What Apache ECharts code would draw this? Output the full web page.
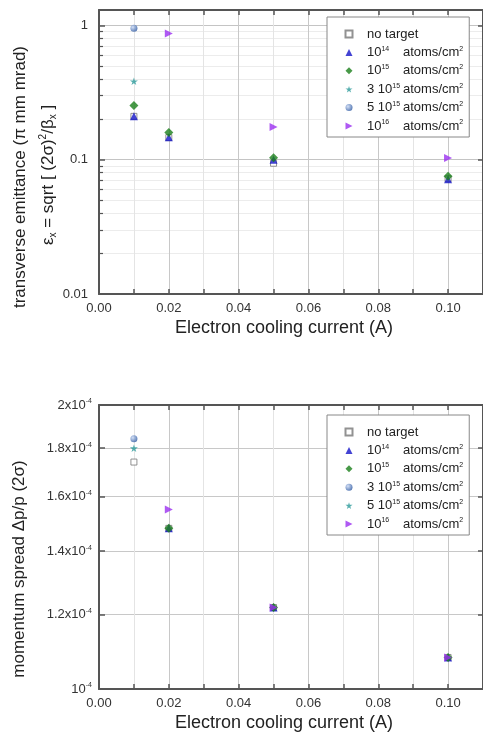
<!DOCTYPE html>
<html>
<head>
<meta charset="utf-8">
<script src="https://cdn.jsdelivr.net/npm/echarts@6/dist/echarts.min.js"></script>
<style>
  html, body { margin: 0; padding: 0; background: #fff; }
  #main { width: 483px; height: 734px; }
</style>
</head>
<body>
<div id="main"></div>
<script>
// electron cooling current (A)
var currents = [0.01, 0.02, 0.05, 0.10];

// transverse emittance (pi mm mrad), top chart
var emitNoTarget = [0.21, 0.146, 0.094, 0.072];
var emit1e14 = [0.21, 0.147, 0.100, 0.0714];
var emit1e15 = [0.253, 0.159, 0.1035, 0.0751];
var emit3e15 = [0.383, null, null, null];
var emit5e15 = [0.951, null, null, null];
var emit1e16 = [null, 0.869, 0.175, 0.1028];

// momentum spread dp/p in units of 1e-4, bottom chart
var dpNoTarget = [1.74, 1.48, 1.22, 1.08];
var dp1e14 = [null, 1.48, 1.22, 1.08];
var dp1e15 = [null, 1.48, 1.22, 1.08];
var dp3e15 = [1.842, null, null, null];
var dp5e15 = [1.80, null, null, null];
var dp1e16 = [null, 1.55, 1.22, 1.08];

// tick values
var emitMinor = [0.02, 0.03, 0.04, 0.05, 0.06, 0.07, 0.08, 0.09,
                 0.2, 0.3, 0.4, 0.5, 0.6, 0.7, 0.8, 0.9];
var dpTicks = [1.0, 1.2, 1.4, 1.6, 1.8, 2.0];
var dpTickLabels = ['10', '1.2x10', '1.4x10', '1.6x10', '1.8x10', '2x10'];

var FONT = '"Liberation Sans", Arial, sans-serif';
var AXIS_COLOR = '#555';
var TXT = '#222';

function pts(ys, scale) {
  var out = [];
  for (var i = 0; i < currents.length; i++) {
    if (ys[i] != null) out.push([currents[i], ys[i] * (scale || 1)]);
  }
  return out;
}

var starPath = 'path://M50,0 L61,35 L98,35 L68,57 L79,91 L50,70 L21,91 L32,57 L2,35 L39,35 Z';
var rightTri = 'path://M0,0 L10,5 L0,10 Z';
var sphere = {
  type: 'radial', x: 0.35, y: 0.35, r: 0.75,
  colorStops: [{ offset: 0, color: '#c8d8f4' }, { offset: 1, color: '#23509c' }]
};

var styles = {
  none: { symbol: 'rect', symbolSize: 6, itemStyle: { color: '#fff', borderColor: '#777', borderWidth: 1 } },
  e14: { symbol: 'triangle', symbolSize: 8, itemStyle: { color: '#1414c8' } },
  e15: { symbol: 'diamond', symbolSize: 9, itemStyle: { color: '#1a7f1a' } },
  star: { symbol: starPath, symbolSize: 8, itemStyle: { color: '#2a9a9a' } },
  ball: { symbol: 'circle', symbolSize: 7, itemStyle: { color: sphere } },
  e16: { symbol: rightTri, symbolSize: 8, itemStyle: { color: '#9b30f0' } }
};

function dens(prefix, exp, narrow) {
  return '{a|' + prefix + '}{' + (narrow ? 'sn' : 'sw') + '|' + exp + '}{b|atoms/cm}{c|2}';
}
var legendText = {
  t0: 'no target', b0: 'no target',
  t14: dens('10', '14'), b14: dens('10', '14'),
  t15: dens('10', '15'), b15: dens('10', '15'),
  t3: dens('3 10', '15', true), b3: dens('3 10', '15', true),
  t5: dens('5 10', '15', true), b5: dens('5 10', '15', true),
  t16: dens('10', '16'), b16: dens('10', '16')
};

function makeSeries(name, style, data, gi) {
  return {
    name: name, type: 'scatter', xAxisIndex: gi * 2, yAxisIndex: gi * 3,
    symbol: style.symbol, symbolSize: style.symbolSize, symbolKeepAspect: true,
    itemStyle: style.itemStyle, data: data, emphasis: { disabled: true }
  };
}

function makeLegend(names, top) {
  var sup = { fontSize: 7, fontFamily: FONT, color: TXT, verticalAlign: 'top', lineHeight: 8 };
  var base = { fontSize: 13, fontFamily: FONT, color: TXT, lineHeight: 14 };
  return {
    data: names, orient: 'vertical', left: 327, top: top,
    padding: [10, 6, 4, 17.5], itemWidth: 7, itemHeight: 7, itemGap: 4.4,
    borderColor: '#888', borderWidth: 1, backgroundColor: '#fff',
    selectedMode: false,
    formatter: function (n) { return legendText[n]; },
    textStyle: {
      fontFamily: FONT, fontSize: 13, color: TXT, lineHeight: 14, padding: [0, 0, 0, 9.5],
      rich: {
        a: base,
        b: base,
        sw: Object.assign({ width: 21.5 }, sup),
        sn: Object.assign({ width: 10.7 }, sup),
        c: sup
      }
    }
  };
}

function xAxes(gi) {
  var base = {
    type: 'value', gridIndex: gi, min: 0, max: 0.11, interval: 0.02,
    axisLine: { lineStyle: { color: AXIS_COLOR, width: 2 } }
  };
  return [
    Object.assign({}, base, {
      position: 'bottom',
      axisTick: { inside: true, length: 5, lineStyle: { color: AXIS_COLOR, width: 1.5 } },
      minorTick: { show: true, splitNumber: 2, length: 5, lineStyle: { color: AXIS_COLOR, width: 1.5 } },
      axisLabel: { margin: 8, fontFamily: FONT, fontSize: 13, color: '#333', showMaxLabel: false,
                   formatter: function (v) { return v.toFixed(2); } },
      splitLine: { show: true, lineStyle: { color: '#c8c8c8', width: 1 } },
      minorSplitLine: { show: true, lineStyle: { color: '#e4e4e4', width: 1 } }
    }),
    Object.assign({}, base, {
      position: 'top',
      axisTick: { inside: true, length: 5, lineStyle: { color: AXIS_COLOR, width: 1.5 } },
      minorTick: { show: true, splitNumber: 2, length: 5, lineStyle: { color: AXIS_COLOR, width: 1.5 } },
      axisLabel: { show: false },
      splitLine: { show: false }
    })
  ];
}

var dpTickValues = dpTicks.map(function (v) { return v * 1e-4; });

var option = {
  animation: false,
  grid: [
    { left: 99, top: 10, width: 387, height: 284 },
    { left: 99, top: 405, width: 387, height: 284 }
  ],
  xAxis: xAxes(0).concat(xAxes(1)),
  yAxis: [
    // top chart, main log axis
    {
      type: 'log', logBase: 10, gridIndex: 0, min: 0.01, max: 1.3, position: 'left',
      axisLine: { lineStyle: { color: AXIS_COLOR, width: 2 } },
      axisTick: { inside: true, length: 6, lineStyle: { color: AXIS_COLOR, width: 1.5 } },
      axisLabel: { margin: 11, fontFamily: FONT, fontSize: 13, color: '#333', showMaxLabel: false,
                   formatter: function (v) { return String(+v.toPrecision(3)); } },
      splitLine: { show: true, lineStyle: { color: '#c4c4c4', width: 1 } }
    },
    // top chart, minor ticks and grid
    {
      type: 'log', logBase: 10, gridIndex: 0, min: 0.01, max: 1.3, position: 'left',
      axisLine: { show: false },
      axisTick: { inside: true, length: 4, customValues: emitMinor, lineStyle: { color: AXIS_COLOR, width: 1.2 } },
      axisLabel: { show: false, customValues: emitMinor },
      splitLine: { show: true, lineStyle: { color: '#ececec', width: 1 } }
    },
    // top chart, right mirror
    {
      type: 'log', logBase: 10, gridIndex: 0, min: 0.01, max: 1.3, position: 'right',
      axisLine: { lineStyle: { color: AXIS_COLOR, width: 2 } },
      axisTick: { inside: true, length: 5, lineStyle: { color: AXIS_COLOR, width: 1.5 } },
      axisLabel: { show: false },
      splitLine: { show: false }
    },
    // bottom chart, main log axis
    {
      type: 'log', logBase: 10, gridIndex: 1, min: 1e-4, max: 2e-4, position: 'left',
      axisLine: { lineStyle: { color: AXIS_COLOR, width: 2 } },
      axisTick: { inside: true, length: 6, customValues: dpTickValues,
                  lineStyle: { color: AXIS_COLOR, width: 1.5 } },
      axisLabel: {
        margin: 7, color: '#333',
        customValues: dpTickValues,
        formatter: function (v) {
          var k = Math.round(v * 1e5) / 10;
          var i = dpTicks.indexOf(k);
          return i >= 0 ? '{m|' + dpTickLabels[i] + '}{s|-4}' : '';
        },
        rich: {
          m: { fontFamily: FONT, fontSize: 13, color: '#333', lineHeight: 14 },
          s: { fontFamily: FONT, fontSize: 7, color: '#333', lineHeight: 8, verticalAlign: 'top' }
        }
      },
      splitLine: { show: true, lineStyle: { color: '#c8c8c8', width: 1 } }
    },
    // bottom chart, spare (keeps index layout)
    {
      type: 'log', logBase: 10, gridIndex: 1, min: 1e-4, max: 2e-4, position: 'left', show: false
    },
    // bottom chart, right mirror
    {
      type: 'log', logBase: 10, gridIndex: 1, min: 1e-4, max: 2e-4, position: 'right',
      axisLine: { lineStyle: { color: AXIS_COLOR, width: 2 } },
      axisTick: { inside: true, length: 5, customValues: dpTickValues,
                  lineStyle: { color: AXIS_COLOR, width: 1.5 } },
      axisLabel: { show: false },
      splitLine: { show: false }
    }
  ],
  legend: [
    makeLegend(['t0', 't14', 't15', 't3', 't5', 't16'], 17),
    makeLegend(['b0', 'b14', 'b15', 'b3', 'b5', 'b16'], 415)
  ],
  series: [
    makeSeries('t0', styles.none, pts(emitNoTarget), 0),
    makeSeries('t14', styles.e14, pts(emit1e14), 0),
    makeSeries('t15', styles.e15, pts(emit1e15), 0),
    makeSeries('t3', styles.star, pts(emit3e15), 0),
    makeSeries('t5', styles.ball, pts(emit5e15), 0),
    makeSeries('t16', styles.e16, pts(emit1e16), 0),
    makeSeries('b0', styles.none, pts(dpNoTarget, 1e-4), 1),
    makeSeries('b14', styles.e14, pts(dp1e14, 1e-4), 1),
    makeSeries('b15', styles.e15, pts(dp1e15, 1e-4), 1),
    makeSeries('b3', styles.ball, pts(dp3e15, 1e-4), 1),
    makeSeries('b5', styles.star, pts(dp5e15, 1e-4), 1),
    makeSeries('b16', styles.e16, pts(dp1e16, 1e-4), 1)
  ],
  graphic: [
    { type: 'text', x: 20, y: 177, rotation: Math.PI / 2,
      style: { text: 'transverse emittance (\u03C0 mm mrad)', font: '17px ' + FONT, fill: TXT, align: 'center', verticalAlign: 'middle' } },
    { type: 'text', x: 48, y: 175, rotation: Math.PI / 2,
      style: {
        text: '{n|\u03B5}{sb|x}{n| = sqrt [ (2\u03C3)}{sp|2}{n|/\u03B2}{sb|x}{n| ]}',
        align: 'center', verticalAlign: 'middle',
        rich: {
          n: { fontSize: 17, fontFamily: FONT, fill: TXT, lineHeight: 20 },
          sb: { fontSize: 10, fontFamily: FONT, fill: TXT, lineHeight: 10, verticalAlign: 'bottom' },
          sp: { fontSize: 10, fontFamily: FONT, fill: TXT, lineHeight: 10, verticalAlign: 'top' }
        }
      } },
    { type: 'text', x: 284, y: 328,
      style: { text: 'Electron cooling current (A)', font: '18px ' + FONT, fill: TXT, align: 'center', verticalAlign: 'middle' } },
    { type: 'text', x: 19, y: 569, rotation: Math.PI / 2,
      style: { text: 'momentum spread \u0394p/p (2\u03C3)', font: '17px ' + FONT, fill: TXT, align: 'center', verticalAlign: 'middle' } },
    { type: 'text', x: 284, y: 723,
      style: { text: 'Electron cooling current (A)', font: '18px ' + FONT, fill: TXT, align: 'center', verticalAlign: 'middle' } }
  ]
};

var chart = echarts.init(document.getElementById('main'), null, { renderer: 'canvas' });
chart.setOption(option);
</script>
</body>
</html>
